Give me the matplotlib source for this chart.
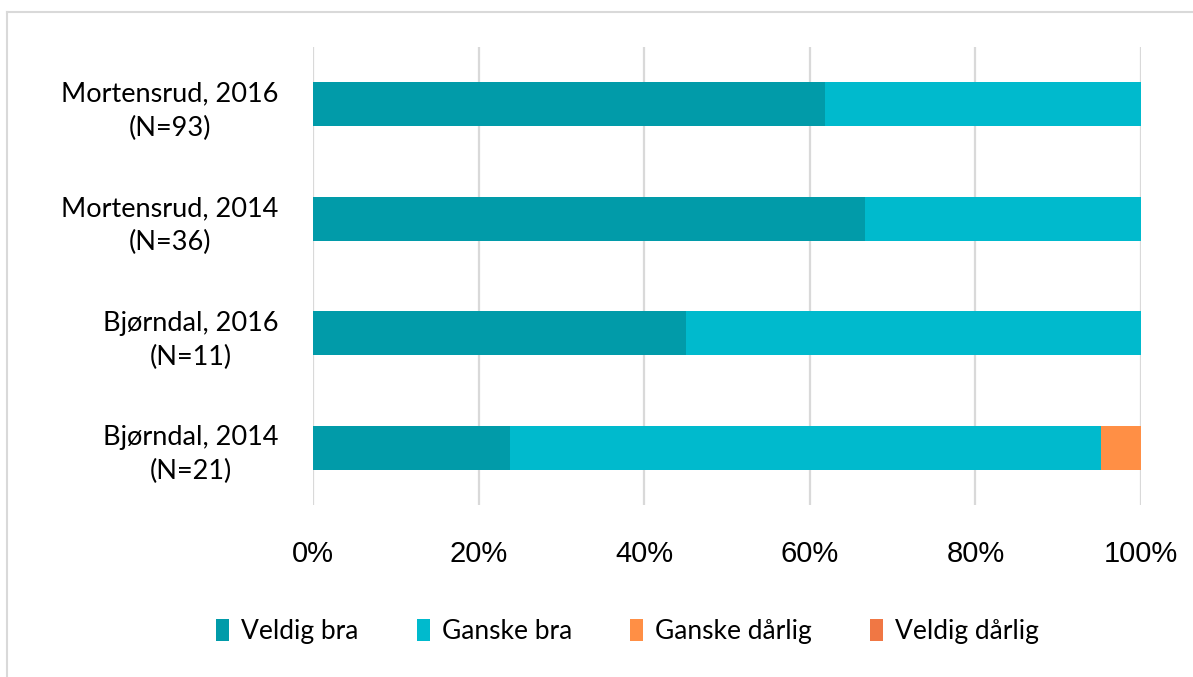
import matplotlib.pyplot as plt
from matplotlib.lines import Line2D
from matplotlib.patches import Patch

# categories, top to bottom
categories = ["Mortensrud, 2016\n(N=93)", "Mortensrud, 2014\n(N=36)",
              "Bjørndal, 2016\n(N=11)", "Bjørndal, 2014\n(N=21)"]
series = ["Veldig bra", "Ganske bra", "Ganske dårlig", "Veldig dårlig"]
veldig_bra = [61.8, 66.7, 45.0, 23.8]
ganske_bra = [38.2, 33.3, 55.0, 71.4]
ganske_darlig = [0.0, 0.0, 0.0, 4.8]
veldig_darlig = [0.0, 0.0, 0.0, 0.0]
colors = ["#019BA9", "#00BACD", "#FF8F45", "#F07744"]
xticks = [0, 20, 40, 60, 80, 100]

fig = plt.figure(figsize=(11.93, 6.77), dpi=100)
ax = fig.add_axes([0.2624, 0.254, 0.694, 0.6766])

values = [veldig_bra, ganske_bra, ganske_darlig, veldig_darlig]
ypos = list(range(len(categories)))
left = [0.0] * len(categories)
for name, vals, col in zip(series, values, colors):
    ax.barh(ypos, vals, left=left, height=0.385, color=col, label=name, zorder=3)
    left = [l + v for l, v in zip(left, vals)]

ax.set_ylim(3.5, -0.5)
ax.set_xlim(0, 100)
ax.set_xticks(xticks)
ax.set_xticklabels([f"{t}%" for t in xticks], fontsize=21, family="Liberation Sans")
ax.set_yticks(ypos)
ax.set_yticklabels(categories, fontsize=19.5, family="Lato", multialignment="center",
                   linespacing=1.45)
ax.tick_params(axis="both", length=0)
ax.tick_params(axis="x", pad=25)
ax.tick_params(axis="y", pad=25)
ax.grid(axis="x", color="#D9D9D9", linewidth=1.6, zorder=0)
for s in ax.spines.values():
    s.set_visible(False)

handles = [Patch(facecolor=c, edgecolor="none") for c in colors]
fig.legend(handles, series, loc="center", bbox_to_anchor=(0.526, 0.067), ncol=4,
           frameon=False, prop={"family": "Lato", "size": 19},
           handlelength=0.5, handleheight=0.9, handletextpad=0.45, columnspacing=2.2)

# chart area border
fig.add_artist(Line2D([7 / 1193, 1], [1 - 12 / 677, 1 - 12 / 677], color="#D9D9D9", lw=1.5))
fig.add_artist(Line2D([7 / 1193, 7 / 1193], [0, 1 - 12 / 677], color="#D9D9D9", lw=1.5))

fig.savefig("out.png", dpi=100)
